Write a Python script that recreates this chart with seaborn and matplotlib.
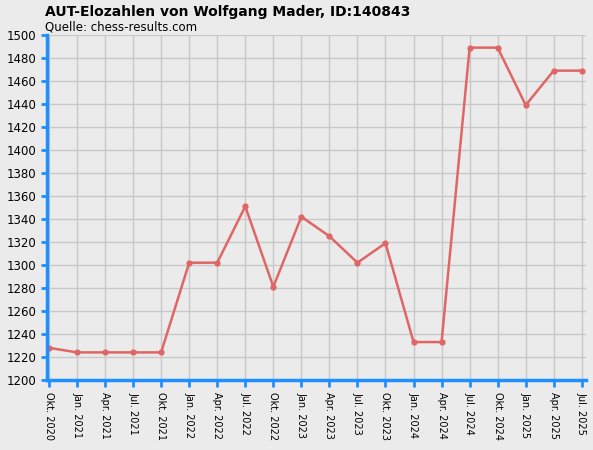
import matplotlib
matplotlib.use("Agg")
import matplotlib.pyplot as plt
import seaborn as sns
import pandas as pd

labels = ["Okt. 2020", "Jan. 2021", "Apr. 2021", "Jul. 2021", "Okt. 2021",
          "Jan. 2022", "Apr. 2022", "Jul. 2022", "Okt. 2022", "Jan. 2023",
          "Apr. 2023", "Jul. 2023", "Okt. 2023", "Jan. 2024", "Apr. 2024",
          "Jul. 2024", "Okt. 2024", "Jan. 2025", "Apr. 2025", "Jul. 2025"]
elo = [1228, 1224, 1224, 1224, 1224, 1302, 1302, 1351, 1281, 1342,
       1325, 1302, 1319, 1233, 1233, 1489, 1489, 1439, 1469, 1469]

df = pd.DataFrame({"idx": range(len(labels)), "Elo": elo})

bg = "#ebebeb"
blue = "#1e8fff"
fig = plt.figure(figsize=(5.93, 4.5), dpi=100, facecolor=bg)
ax = fig.add_axes([47 / 593, 70 / 450, 539 / 593, 345 / 450])
ax.set_facecolor(bg)

sns.lineplot(data=df, x="idx", y="Elo", color="#e06666", linewidth=1.8,
             marker="o", markersize=4.5, markeredgewidth=0, ax=ax)

ax.set_xlim(-0.07, len(labels) - 1 + 0.15)
ax.set_ylim(1200, 1500)
ax.set_yticks(range(1200, 1501, 20))
ax.set_xticks(range(len(labels)))
ax.set_xticklabels(labels, rotation=-90, fontsize=7)
ax.tick_params(axis="y", labelsize=8.5, colors="black", length=4, color=blue, width=2)
ax.tick_params(axis="x", length=5, color=blue, width=2, pad=4)
ax.grid(True, color="#c8c8c8", linewidth=1)
ax.set_axisbelow(True)
for s in ["top", "right"]:
    ax.spines[s].set_visible(False)
for s in ["left", "bottom"]:
    ax.spines[s].set_color(blue)
    ax.spines[s].set_linewidth(2.5)
ax.set_xlabel("")
ax.set_ylabel("")

fig.text(45 / 593, 1 - 12 / 450, "AUT-Elozahlen von Wolfgang Mader, ID:140843",
         fontsize=10, fontweight="bold", va="center")
fig.text(45 / 593, 1 - 27 / 450, "Quelle: chess-results.com", fontsize=8.5, va="center")

fig.savefig("out.png", dpi=100, facecolor=bg)
